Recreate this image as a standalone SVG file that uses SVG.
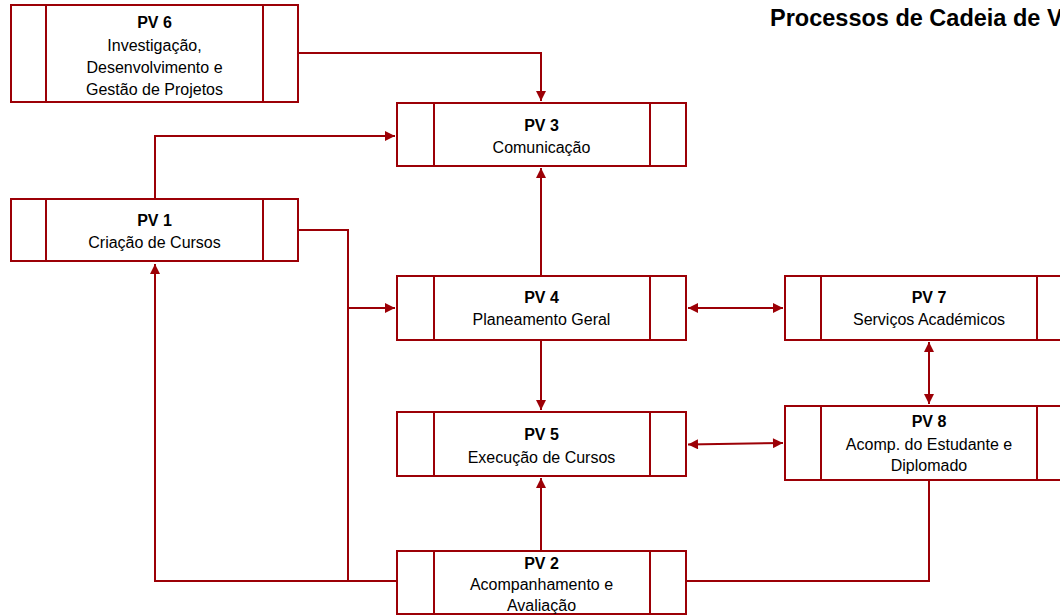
<svg xmlns="http://www.w3.org/2000/svg" width="1060" height="616" viewBox="0 0 1060 616">
<style>
.box{fill:#fff;stroke:#9c0006;stroke-width:2}
.div{stroke:#9c0006;stroke-width:2}
.con{fill:none;stroke:#9c0006;stroke-width:2}
.t{font-family:"Liberation Sans",Arial,sans-serif;font-size:16px;fill:#000;text-anchor:middle}
.b{font-weight:bold}
.title{font-family:"Liberation Sans",Arial,sans-serif;font-size:23.5px;font-weight:bold;fill:#000}
</style>
<defs>
<marker id="ah" viewBox="0 0 10 10" refX="10" refY="5" markerWidth="5.5" markerHeight="5" orient="auto-start-reverse" markerUnits="strokeWidth">
<path d="M0,0 L10,5 L0,10 z" fill="#9c0006"/>
</marker>
</defs>
<rect width="1060" height="616" fill="#fff"/>
<text class="title" x="770" y="26">Processos de Cadeia de Valor</text>
<g id="connectors">
<path class="con" d="M298,53 H541 V101" marker-end="url(#ah)"/>
<path class="con" d="M155,198 V136 H395" marker-end="url(#ah)"/>
<path class="con" d="M298,230 H348 V308 H395" marker-end="url(#ah)"/>
<path class="con" d="M397,581 H348 V308"/>
<path class="con" d="M397,581 H155 V264" marker-end="url(#ah)"/>
<path class="con" d="M541,276 V168" marker-end="url(#ah)"/>
<path class="con" d="M541,340 V410" marker-end="url(#ah)"/>
<path class="con" d="M541,551 V478" marker-end="url(#ah)"/>
<path class="con" d="M688,308 H783" marker-start="url(#ah)" marker-end="url(#ah)"/>
<path class="con" d="M929,342 V404" marker-start="url(#ah)" marker-end="url(#ah)"/>
<path class="con" d="M688,444.5 L783,443" marker-start="url(#ah)" marker-end="url(#ah)"/>
<path class="con" d="M686,581 H929 V480"/>
</g>
<g id="pv6">
<rect class="box" x="11" y="5" width="287" height="97"/>
<line class="div" x1="46" y1="5" x2="46" y2="102"/><line class="div" x1="263" y1="5" x2="263" y2="102"/>
<text class="t b" x="154.5" y="28">PV 6</text>
<text class="t" x="154.5" y="51">Investigação,</text>
<text class="t" x="154.5" y="73">Desenvolvimento e</text>
<text class="t" x="154.5" y="95">Gestão de Projetos</text>
</g>
<g id="pv3">
<rect class="box" x="397" y="103" width="289" height="63"/>
<line class="div" x1="434" y1="103" x2="434" y2="166"/><line class="div" x1="650" y1="103" x2="650" y2="166"/>
<text class="t b" x="541.5" y="131">PV 3</text>
<text class="t" x="541.5" y="153">Comunicação</text>
</g>
<g id="pv1">
<rect class="box" x="11" y="199" width="287" height="62"/>
<line class="div" x1="46" y1="199" x2="46" y2="261"/><line class="div" x1="263" y1="199" x2="263" y2="261"/>
<text class="t b" x="154.5" y="226">PV 1</text>
<text class="t" x="154.5" y="248">Criação de Cursos</text>
</g>
<g id="pv4">
<rect class="box" x="397" y="276" width="289" height="64"/>
<line class="div" x1="434" y1="276" x2="434" y2="340"/><line class="div" x1="650" y1="276" x2="650" y2="340"/>
<text class="t b" x="541.5" y="303">PV 4</text>
<text class="t" x="541.5" y="325">Planeamento Geral</text>
</g>
<g id="pv7">
<rect class="box" x="785" y="276" width="288" height="64"/>
<line class="div" x1="821" y1="276" x2="821" y2="340"/><line class="div" x1="1037" y1="276" x2="1037" y2="340"/>
<text class="t b" x="929" y="303">PV 7</text>
<text class="t" x="929" y="325">Serviços Académicos</text>
</g>
<g id="pv5">
<rect class="box" x="397" y="412" width="289" height="64"/>
<line class="div" x1="434" y1="412" x2="434" y2="476"/><line class="div" x1="650" y1="412" x2="650" y2="476"/>
<text class="t b" x="541.5" y="440">PV 5</text>
<text class="t" x="541.5" y="463">Execução de Cursos</text>
</g>
<g id="pv8">
<rect class="box" x="785" y="406" width="288" height="74"/>
<line class="div" x1="821" y1="406" x2="821" y2="480"/><line class="div" x1="1037" y1="406" x2="1037" y2="480"/>
<text class="t b" x="929" y="427">PV 8</text>
<text class="t" x="929" y="450">Acomp. do Estudante e</text>
<text class="t" x="929" y="471">Diplomado</text>
</g>
<g id="pv2">
<rect class="box" x="397" y="551" width="289" height="63"/>
<line class="div" x1="434" y1="551" x2="434" y2="614"/><line class="div" x1="650" y1="551" x2="650" y2="614"/>
<text class="t b" x="541.5" y="569">PV 2</text>
<text class="t" x="541.5" y="590">Acompanhamento e</text>
<text class="t" x="541.5" y="611">Avaliação</text>
</g>
</svg>
